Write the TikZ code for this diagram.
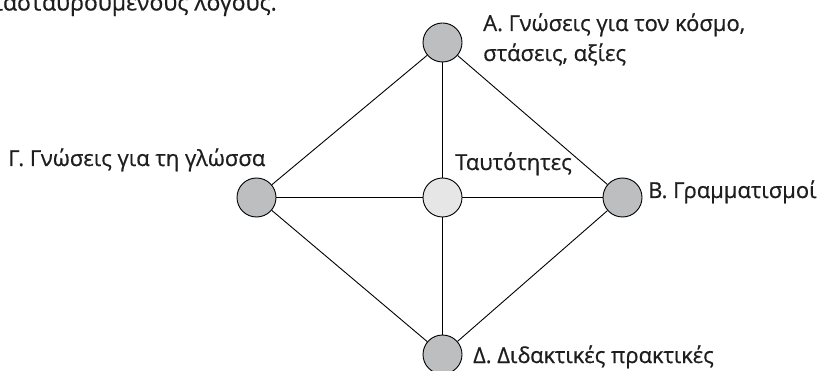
\documentclass[tikz,border=0pt]{standalone}
\usepackage{fontspec}
\setmainfont{Open Sans}
\newfontfamily\lblfont{Open Sans}[FakeBold=0.6]
\definecolor{outerfill}{HTML}{BDBEC0}
\definecolor{innerfill}{HTML}{E6E6E7}
\definecolor{txt}{HTML}{1E1E1E}
\begin{document}
\begin{tikzpicture}[x=1pt,y=-1pt,
  vert/.style={circle,draw=black,line width=0.9pt,minimum size=39pt,inner sep=0pt,fill=outerfill},
  hub/.style={vert,fill=innerfill},
  edge/.style={draw=black,line width=0.9pt},
  lbl/.style={font=\lblfont\fontsize{22}{30}\selectfont,inner sep=0pt,text=txt}]
\useasboundingbox (0,0) rectangle (821,371);
\clip (0,0) rectangle (821,371);
\node[lbl,anchor=base east,font=\lblfont\fontsize{23}{28}\selectfont] (top) at (277,10.5) {διασταυρούμενους λόγους.};
\node[vert] (A) at (442.5,42.5) {};
\node[hub] (C) at (442.5,197.5) {};
\node[vert] (B) at (622.5,197.5) {};
\node[vert] (G) at (256.5,197.5) {};
\node[vert] (D) at (442.5,354.5) {};
\draw[edge] (A) -- (G);
\draw[edge] (A) -- (B);
\draw[edge] (A) -- (C);
\draw[edge] (G) -- (C);
\draw[edge] (C) -- (B);
\draw[edge] (C) -- (D);
\draw[edge] (G) -- (D);
\draw[edge] (B) -- (D);
\node[lbl,anchor=base west] (la) at (483,31) {Α. Γνώσεις για τον κόσμο,};
\node[lbl,anchor=base west] (la2) at (483,61) {στάσεις, αξίες};
\node[lbl,anchor=base west] (lg) at (8,166) {Γ. Γνώσεις για τη γλώσσα};
\node[lbl,anchor=base west] (lc) at (455,170) {Ταυτότητες};
\node[lbl,anchor=base west] (lb) at (648,198) {Β. Γραμματισμοί};
\node[lbl,anchor=base west] (ld) at (473,363) {Δ. Διδακτικές πρακτικές};
\end{tikzpicture}
\end{document}
